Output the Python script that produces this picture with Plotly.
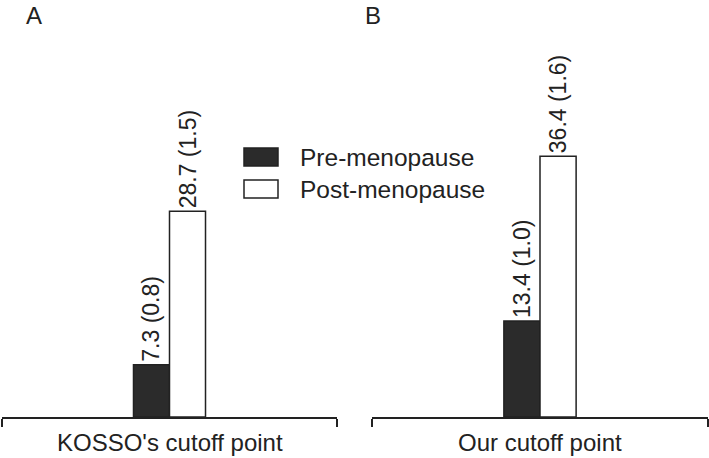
import plotly.graph_objects as go

# data
groups = ["KOSSO's cutoff point", "Our cutoff point"]
panels = ["A", "B"]
pre_vals = [7.3, 13.4]
pre_se = [0.8, 1.0]
post_vals = [28.7, 36.4]
post_se = [1.5, 1.6]
series_names = ["Pre-menopause", "Post-menopause"]

W, H = 709, 458
ink = "#222222"
font = "Liberation Sans, Arial, sans-serif"

fig = go.Figure()

for i in range(len(groups)):
    xa = "x" if i == 0 else "x2"
    ya = "y" if i == 0 else "y2"
    # one bar per series in each panel
    for vals, ses, fill, name in [(pre_vals, pre_se, "#2b2b2b", series_names[0]),
                                  (post_vals, post_se, "white", series_names[1])]:
        fig.add_trace(go.Bar(
            x=[0], y=[vals[i]], name=name, xaxis=xa, yaxis=ya,
            marker=dict(color=fill, line=dict(color=ink, width=1.5)),
            text=[f"{vals[i]} ({ses[i]})"], textposition="outside",
            textangle=-90, constraintext="none", cliponaxis=False,
            textfont=dict(size=23, color=ink, family=font),
            showlegend=False,
        ))

# x axes: a plain baseline with end ticks, like R's axis()
xcommon = dict(range=[-0.5, 0.5], showline=True, linecolor=ink, linewidth=1.5,
               ticks="outside", ticklen=8, tickwidth=1.5, tickcolor=ink,
               tickvals=[-0.5, 0.5], ticktext=["", ""], showgrid=False,
               zeroline=False, fixedrange=True)
ycommon = dict(range=[0, 58.2], visible=False, showgrid=False, zeroline=False,
               fixedrange=True)

fig.update_layout(
    width=W, height=H,
    margin=dict(l=0, r=0, t=0, b=41),
    paper_bgcolor="white", plot_bgcolor="white",
    barmode="group", bargap=0.785, bargroupgap=0,
    font=dict(family=font, color=ink),
    xaxis=dict(domain=[2 / W, 337 / W], anchor="y", **xcommon),
    xaxis2=dict(domain=[372 / W, 708 / W], anchor="y2", **xcommon),
    yaxis=dict(anchor="x", domain=[0, 1], **ycommon),
    yaxis2=dict(anchor="x2", domain=[0, 1], **ycommon),
)

annotations = []
for i, g in enumerate(groups):
    xr = "x" if i == 0 else "x2"
    annotations.append(dict(text=g, x=0, xref=xr, y=-10 / 417, yref="paper",
                            xanchor="center", yanchor="top", showarrow=False,
                            font=dict(size=24, color=ink, family=font)))
# panel letters
for letter, px in zip(panels, [34, 373]):
    annotations.append(dict(text=letter, x=px / W, xref="paper", y=1 - 15 / 417,
                            yref="paper", xanchor="center", yanchor="middle",
                            showarrow=False, font=dict(size=24, color=ink, family=font)))

# legend drawn by hand so the swatches are the right size
def py(pix):
    return 1 - pix / 417

shapes = []
for name, fill, top in [(series_names[0], "#2b2b2b", 148), (series_names[1], "white", 180)]:
    shapes.append(dict(type="rect", xref="paper", yref="paper",
                       x0=244 / W, x1=278 / W, y0=py(top + 18), y1=py(top),
                       fillcolor=fill, line=dict(color=ink, width=1.5)))
    annotations.append(dict(text=name, x=298 / W, xref="paper", y=py(top + 9),
                            yref="paper", xanchor="left", yanchor="middle",
                            showarrow=False, font=dict(size=24.5, color=ink, family=font)))

fig.update_layout(annotations=annotations, shapes=shapes)
# drop the browser's default body margin so the figure sits at the window corner
fig.write_html("out.html", config={"displayModeBar": False},
               post_script="document.body.style.margin='0';")
